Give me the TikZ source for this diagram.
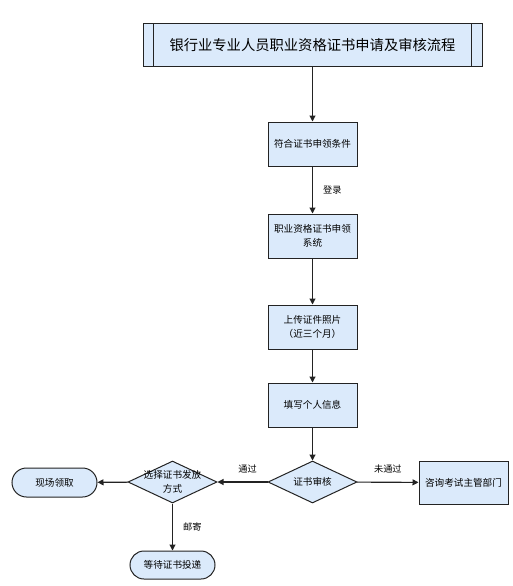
\documentclass[tikz,border=0pt]{standalone}
\usepackage{fontspec}
\setmainfont{Noto Sans CJK SC}
\usetikzlibrary{shapes.geometric, shapes.misc, arrows.meta, positioning}
\definecolor{boxblue}{RGB}{219, 234, 251}
\definecolor{edgegray}{RGB}{35, 35, 35}

\tikzset{
  stepbox/.style={draw=edgegray, fill=boxblue, line width=1pt, minimum width=89pt, minimum height=44pt, inner sep=2pt, align=center, font=\fontsize{9.6}{13.5}\selectfont},
  endbox/.style={rounded rectangle, draw=edgegray, fill=boxblue, line width=1pt, minimum width=89pt, minimum height=29pt, inner sep=2pt, font=\fontsize{9.6}{13.5}\selectfont},
  checkbox/.style={diamond, draw=edgegray, fill=boxblue, line width=1pt, minimum width=89pt, minimum height=42pt, inner sep=0pt},
  inlabel/.style={align=center, font=\fontsize{9.6}{13.5}\selectfont},
  flow/.style={draw=edgegray, line width=1.1pt, -{Triangle[length=6pt, width=6pt]}},
  edgetext/.style={font=\fontsize{9.2}{11}\selectfont, inner sep=1pt}
}

\begin{document}
\begin{tikzpicture}[x=1pt, y=-1pt]
  \useasboundingbox (0,0) rectangle (513,586);

  % title (predefined process box)
  \node[draw=edgegray, fill=boxblue, line width=1pt, minimum width=339pt, minimum height=43pt, font=\fontsize{14.3}{16}\selectfont] (title) at (312.5,45.5) {银行业专业人员职业资格证书申请及审核流程};
  \draw[edgegray, line width=1pt] ([xshift=11pt]title.north west) -- ([xshift=11pt]title.south west);
  \draw[edgegray, line width=1pt] ([xshift=-11pt]title.north east) -- ([xshift=-11pt]title.south east);

  % main column
  \node[stepbox] (qualify) at (312.5,144) {符合证书申领条件};
  \node[stepbox] (system) at (312.5,236) {职业资格证书申领\\系统};
  \node[stepbox] (photo) at (312.5,327) {上传证件照片\\（近三个月）};
  \node[stepbox] (info) at (312.5,405) {填写个人信息};
  \node[checkbox, label={[inlabel]center:证书审核}] (review) at (312.5,482) {};

  % branches
  \node[stepbox, minimum height=43pt] (consult) at (463.5,482.5) {咨询考试主管部门};
  \node[checkbox, label={[inlabel]center:选择证书发放\\方式}] (choose) at (172.5,482) {};
  \node[endbox] (onsite) at (54.5,482.5) {现场领取};
  \node[endbox, minimum height=28pt] (mail) at (172.5,565) {等待证书投递};

  % connectors
  \draw[flow] (title) -- (qualify);
  \draw[flow] (qualify) -- node[edgetext, right=9pt] {登录} (system);
  \draw[flow] (system) -- (photo);
  \draw[flow] (photo) -- (info);
  \draw[flow] (info) -- (review);
  \draw[flow] (review) -- node[edgetext, above=7pt] {未通过} (consult);
  \draw[flow] (review) -- node[edgetext, above=7pt, xshift=5pt] {通过} (choose);
  \draw[flow] (choose) -- (onsite);
  \draw[flow] (choose) -- node[edgetext, right=9pt] {邮寄} (mail);
\end{tikzpicture}
\end{document}
